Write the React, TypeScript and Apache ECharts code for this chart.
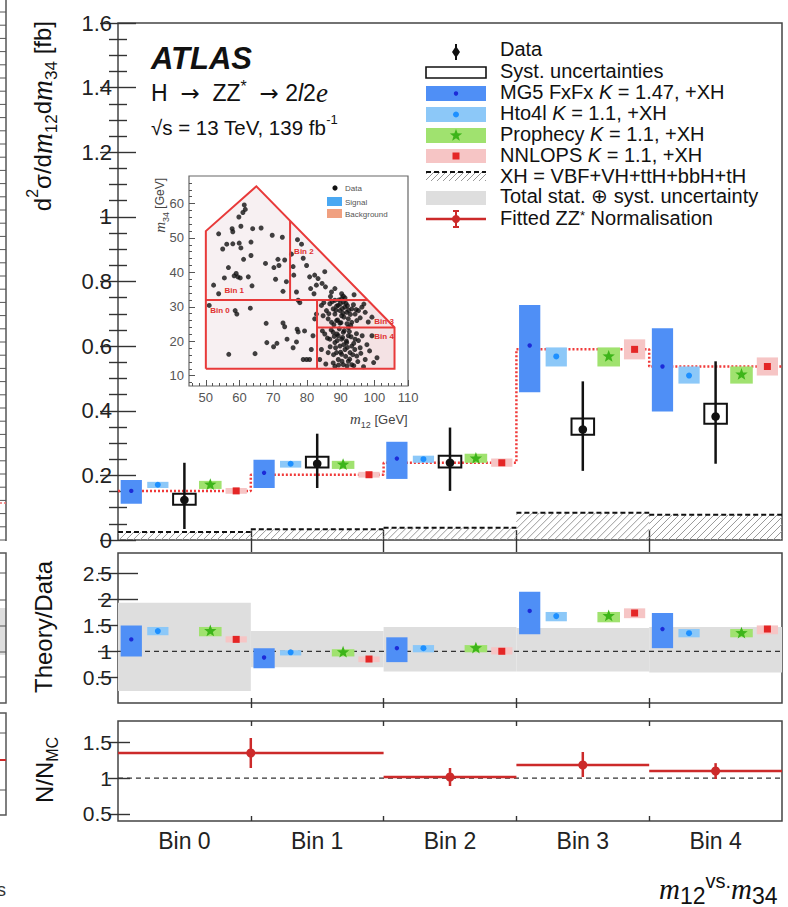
import React, { useEffect, useRef } from 'react';
import * as echarts from 'echarts';

const FONT = 'Liberation Sans, Arial, Helvetica, sans-serif';
const SERIF = 'Liberation Serif, Times New Roman, serif';

// ---------- data ----------
const binLabels = ['Bin 0', 'Bin 1', 'Bin 2', 'Bin 3', 'Bin 4'];
const binIndex = [0, 1, 2, 3, 4];

// main panel: d2sigma/dm12dm34 [fb]
const mg5 = [0.152, 0.208, 0.252, 0.602, 0.537];
const mg5Lo = [0.112, 0.161, 0.189, 0.457, 0.398];
const mg5Hi = [0.186, 0.248, 0.304, 0.727, 0.655];
const hto4l = [0.171, 0.236, 0.25, 0.568, 0.509];
const hto4lLo = [0.161, 0.224, 0.239, 0.537, 0.484];
const hto4lHi = [0.18, 0.245, 0.261, 0.596, 0.537];
const prophecy = [0.171, 0.233, 0.252, 0.568, 0.512];
const prophecyLo = [0.158, 0.22, 0.239, 0.537, 0.484];
const prophecyHi = [0.183, 0.245, 0.267, 0.596, 0.537];
const nnlops = [0.152, 0.202, 0.239, 0.59, 0.537];
const nnlopsLo = [0.143, 0.193, 0.227, 0.559, 0.509];
const nnlopsHi = [0.161, 0.211, 0.252, 0.621, 0.565];
const dataVal = [0.124, 0.236, 0.239, 0.342, 0.382];
const dataLo = [0.034, 0.161, 0.152, 0.214, 0.236];
const dataHi = [0.239, 0.329, 0.348, 0.491, 0.553];
const systLo = [0.109, 0.224, 0.224, 0.326, 0.36];
const systHi = [0.143, 0.258, 0.261, 0.376, 0.422];
const xhVal = [0.025, 0.033, 0.038, 0.084, 0.078];

// ratio panel: Theory/Data
const bandLo = [0.23, 0.69, 0.61, 0.61, 0.59];
const bandHi = [1.94, 1.39, 1.47, 1.45, 1.47];
const rMg5 = [1.23, 0.88, 1.06, 1.78, 1.43];
const rMg5Lo = [0.9, 0.67, 0.79, 1.33, 1.06];
const rMg5Hi = [1.5, 1.06, 1.27, 2.15, 1.74];
const rHto4l = [1.39, 0.98, 1.06, 1.68, 1.35];
const rHto4lLo = [1.31, 0.92, 0.98, 1.58, 1.27];
const rHto4lHi = [1.47, 1.02, 1.12, 1.76, 1.43];
const rProphecy = [1.39, 0.98, 1.06, 1.68, 1.35];
const rProphecyLo = [1.29, 0.9, 0.98, 1.56, 1.27];
const rProphecyHi = [1.47, 1.04, 1.12, 1.76, 1.43];
const rNnlops = [1.23, 0.85, 1.0, 1.74, 1.43];
const rNnlopsLo = [1.17, 0.79, 0.94, 1.64, 1.33];
const rNnlopsHi = [1.29, 0.9, 1.08, 1.83, 1.5];

// N/N_MC panel
const fitFrom = [0, 2, 3, 4];
const fitTo = [2, 3, 4, 5];
const fitAt = [1, 2.5, 3.5, 4.5];
const fitVal = [1.352, 1.016, 1.184, 1.1];
const fitLo = [1.142, 0.89, 1.016, 0.988];
const fitHi = [1.562, 1.142, 1.366, 1.21];

// tick values
const ratioTicks = [0.5, 1, 1.5, 2, 2.5];
const normTicks = [0.5, 1, 1.5];
const binEdges = [1, 2, 3, 4];
const binCentres = [0.5, 1.5, 2.5, 3.5, 4.5];
const insetXTicks = [50, 60, 70, 80, 90, 100, 110];
const insetYTicks = [10, 20, 30, 40, 50, 60];

// inset: (m12, m34) events
const insetPoints: number[][] = [
  [61.4, 59.6], [61.7, 58.3], [61.0, 57.4], [59.8, 56.1], [60.4, 53.4], [57.8, 52.7], [58.0, 51.8], [53.8, 51.2],
  [63.9, 52.7], [66.4, 52.9], [59.9, 48.5], [60.4, 47.1], [58.0, 48.3], [56.2, 48.2], [55.0, 46.8], [63.4, 48.8],
  [61.2, 43.8], [63.4, 44.9], [69.7, 50.8], [72.7, 50.2], [67.7, 42.6], [71.4, 43.8], [73.4, 43.6], [70.2, 41.4],
  [71.7, 42.0], [56.7, 41.4], [59.0, 39.7], [59.5, 38.7], [58.4, 39.0], [60.2, 38.4], [55.5, 38.4], [62.6, 38.7],
  [52.3, 36.3], [53.8, 33.8], [63.7, 36.1], [70.7, 38.0], [73.9, 37.3], [72.9, 34.5], [75.4, 45.3], [75.9, 41.7],
  [76.1, 39.2], [76.9, 34.3], [77.2, 49.5], [78.4, 48.2], [77.4, 31.9], [77.9, 31.2],
  [51.0, 30.4], [58.7, 28.9], [59.2, 27.9], [63.2, 29.6], [67.9, 25.2], [72.9, 25.3], [73.4, 24.2], [77.1, 23.5],
  [77.4, 22.7], [68.1, 19.6], [71.1, 19.4], [70.1, 18.4], [74.1, 20.6], [76.9, 19.8], [75.9, 18.1], [56.8, 16.2],
  [64.6, 16.4], [78.9, 14.7],
  [79.9, 42.0], [80.8, 38.7], [82.3, 39.2], [83.3, 38.2], [82.8, 36.3], [84.5, 36.8], [85.3, 40.2], [85.5, 35.8],
  [81.1, 35.3], [82.1, 33.8], [87.3, 34.3], [88.3, 35.3], [90.3, 33.8], [90.8, 33.1], [78.9, 44.1],
  [84.3, 30.4], [85.8, 28.9], [86.8, 30.9], [87.8, 29.4], [88.3, 27.9], [89.3, 30.4], [89.8, 28.9], [90.3, 27.4],
  [90.8, 31.4], [91.3, 29.9], [91.8, 28.4], [92.3, 26.5], [93.3, 29.4], [94.3, 27.9], [95.3, 28.9], [96.3, 29.9],
  [97.3, 28.4], [88.8, 26.0], [87.3, 25.5], [86.3, 26.5], [89.8, 25.3], [93.3, 25.5], [94.8, 26.0], [84.8, 27.4],
  [99.3, 27.0], [88.3, 31.9], [90.3, 32.4],
  [85.3, 22.1], [86.8, 20.6], [87.8, 22.6], [88.3, 19.6], [89.3, 21.6], [89.8, 18.6], [90.3, 20.6], [90.8, 22.6],
  [91.3, 17.6], [91.8, 19.6], [92.3, 21.6], [92.8, 16.7], [93.3, 18.6], [94.3, 20.6], [94.8, 15.7], [95.8, 18.1],
  [89.3, 14.7], [87.8, 13.7], [90.8, 13.2], [92.3, 14.2], [86.3, 16.7], [84.3, 17.6], [83.8, 14.7], [97.3, 14.7],
  [100.8, 15.2], [99.3, 21.6], [88.8, 16.7], [90.3, 16.2], [93.3, 13.2], [88.3, 12.7],
  [79.3, 23.0], [81.8, 21.6], [81.3, 17.6], [79.9, 14.7], [80.8, 14.7], [82.3, 26.5], [82.8, 27.9],
  [87.5, 31.5], [88.8, 30.2], [89.5, 32.0], [90.5, 29.5], [91.0, 27.0], [91.6, 31.0], [92.4, 29.0], [92.9, 27.8],
  [93.8, 30.6], [94.6, 29.2], [89.1, 26.2], [90.1, 25.4], [91.9, 25.1], [93.0, 24.6], [88.0, 24.8], [86.5, 28.0],
  [85.0, 31.2], [95.8, 26.8], [96.9, 30.8], [98.2, 25.6], [90.7, 28.1], [89.9, 30.9], [92.0, 30.3], [88.6, 29.0],
  [91.3, 32.6], [94.0, 33.5], [87.0, 33.0],
  [87.2, 23.3], [88.9, 22.1], [89.6, 23.6], [90.6, 21.1], [91.1, 23.1], [91.7, 20.1], [92.6, 22.8], [93.1, 21.3],
  [93.9, 19.4], [94.7, 22.2], [95.3, 20.2], [96.4, 21.6], [97.8, 19.0], [86.9, 18.4], [87.9, 16.1], [88.5, 18.1],
  [89.0, 20.2], [90.0, 16.8], [90.9, 19.0], [91.5, 15.6], [92.0, 18.2], [92.7, 14.8], [93.6, 16.1], [94.2, 17.6],
  [95.1, 14.1], [96.0, 16.5], [89.4, 13.1], [90.4, 14.2], [91.9, 12.8], [93.9, 12.9], [85.6, 13.4], [86.1, 20.9],
  [84.6, 23.0], [98.6, 17.2], [99.8, 13.8], [96.8, 12.6], [88.1, 21.4], [92.3, 24.0],
];
const insetOutline = [[50, 12], [50, 52], [65, 65], [106, 24], [106, 12], [50, 12]];
const insetDividers = [
  [[50, 32], [98, 32]],
  [[75, 32], [75, 55]],
  [[83, 12], [83, 32]],
  [[83, 24], [106, 24]],
];
const insetCluster = [[83, 12], [83, 32], [98, 32], [106, 24], [106, 12]];
const insetBinText = ['Bin 0', 'Bin 1', 'Bin 2', 'Bin 3', 'Bin 4'];
const insetBinPos = [[51.3, 29], [55.5, 34.6], [76.2, 46], [100, 25.8], [100, 21.4]];

// ---------- helpers ----------
const C = {
  mg5: '#4f8ff6', mg5Dot: '#1c2bd8',
  hto4l: '#8cc8f8', hto4lDot: '#1e90ff',
  prophecy: '#a0e26f', prophecyDot: '#3db51a',
  nnlops: '#f6c5c5', nnlopsDot: '#e42626',
  band: '#dedede', red: '#cc2a2a', dotted: '#f03a3a',
};

function starPts(cx: number, cy: number, R: number, r: number) {
  const pts: number[][] = [];
  for (let k = 0; k < 10; k++) {
    const a = -Math.PI / 2 + (k * Math.PI) / 5;
    const rad = k % 2 ? r : R;
    pts.push([cx + rad * Math.cos(a), cy + rad * Math.sin(a)]);
  }
  return pts;
}

function marker(kind: string, x: number, y: number): any {
  if (kind === 'mg5') return { type: 'circle', shape: { cx: x, cy: y, r: 2.2 }, style: { fill: C.mg5Dot } };
  if (kind === 'hto4l') return { type: 'circle', shape: { cx: x, cy: y, r: 3 }, style: { fill: C.hto4lDot } };
  if (kind === 'prophecy') return { type: 'polygon', shape: { points: starPts(x, y, 6.5, 2.7) }, style: { fill: C.prophecyDot } };
  return { type: 'rect', shape: { x: x - 3.5, y: y - 3.5, width: 7, height: 7 }, style: { fill: C.nnlopsDot } };
}

const SLOT: Record<string, number[]> = {
  mg5: [0.02, 0.18], hto4l: [0.22, 0.38], prophecy: [0.61, 0.78], nnlops: [0.81, 0.97],
};

function boxSeries(kind: string, fill: string, center: number[], lo: number[], hi: number[], ax: number) {
  const slot = SLOT[kind];
  return {
    type: 'custom', xAxisIndex: ax, yAxisIndex: ax, z: 3, silent: true,
    data: center.map((c, i) => [binIndex[i], c, lo[i], hi[i]]),
    renderItem: (_p: any, api: any) => {
      const i = api.value(0);
      const tl = api.coord([i + slot[0], api.value(3)]);
      const br = api.coord([i + slot[1], api.value(2)]);
      const m = api.coord([i + (slot[0] + slot[1]) / 2, api.value(1)]);
      return {
        type: 'group',
        children: [
          { type: 'rect', shape: { x: tl[0], y: tl[1], width: br[0] - tl[0], height: br[1] - tl[1] }, style: { fill } },
          marker(kind, m[0], m[1]),
        ],
      };
    },
  };
}

function hatchLines(x0: number, y0: number, x1: number, y1: number, step: number, color: string) {
  const out: any[] = [];
  for (let c = x0 + y0 + 2; c <= x1 + y1; c += step) {
    const s = Math.max(x0, c - y1);
    const e = Math.min(x1, c - y0);
    if (e > s) out.push({ type: 'line', shape: { x1: s, y1: c - s, x2: e, y2: c - e }, style: { stroke: color, lineWidth: 1 } });
  }
  return out;
}

const tickStyle = { color: '#333', width: 1.4 };

function xAxisFor(grid: number, pos: string, len: number, labels: boolean) {
  return {
    type: 'value', gridIndex: grid, position: pos, min: 0, max: 5,
    axisLine: { show: false }, splitLine: { show: false },
    axisTick: { show: true, inside: true, length: len, customValues: binEdges, lineStyle: tickStyle },
    axisLabel: labels
      ? { show: true, customValues: binCentres, formatter: (v: number) => binLabels[Math.floor(v)], fontSize: 23, color: '#222', fontFamily: FONT, margin: 8 }
      : { show: false },
  };
}

function yAxisFor(grid: number, pos: string, min: number, max: number, ticks: number[], len: number, labels: boolean) {
  return {
    type: 'value', gridIndex: grid, position: pos, min, max,
    axisLine: { show: false }, splitLine: { show: false },
    axisTick: { show: true, inside: true, length: len, customValues: ticks, lineStyle: tickStyle },
    axisLabel: labels
      ? { show: true, customValues: ticks, formatter: (v: number) => String(v), fontSize: 21, color: '#222', fontFamily: FONT, margin: 6 }
      : { show: false },
  };
}

function mainY(pos: string, labels: boolean) {
  return {
    type: 'value', gridIndex: 0, position: pos, min: 0, max: 1.6, interval: 0.2,
    axisLine: { show: false }, splitLine: { show: false },
    axisTick: { show: true, inside: true, length: 18, lineStyle: tickStyle },
    minorTick: { show: true, splitNumber: 4, length: 9, lineStyle: tickStyle },
    axisLabel: labels
      ? { show: true, formatter: (v: number) => String(+v.toFixed(1)), fontSize: 22, color: '#222', fontFamily: FONT, margin: 6 }
      : { show: false },
  };
}

function insetMinor(lo: number, hi: number, step: number, majors: number[]) {
  const out: number[] = [];
  for (let v = lo; v <= hi; v += step) if (majors.indexOf(v) < 0) out.push(v);
  return out;
}

function insetAxis(dim: 'x' | 'y', major: boolean) {
  const isX = dim === 'x';
  const majors = isX ? insetXTicks : insetYTicks;
  const ticks = major ? majors : insetMinor(isX ? 46 : 8, isX ? 110 : 66, 2, majors);
  return {
    type: 'value', gridIndex: 3, position: isX ? 'bottom' : 'left',
    min: isX ? 45 : 7, max: isX ? 110 : 68,
    axisLine: { show: false }, splitLine: { show: false },
    axisTick: { show: true, inside: true, length: major ? 6 : 3, customValues: ticks, lineStyle: { color: '#555', width: 1 } },
    axisLabel: major
      ? { show: true, customValues: majors, fontSize: 13, color: '#555', fontFamily: FONT, margin: 5 }
      : { show: false },
  };
}

function txt(text: string, x: number, y: number, size: number, extra: any = {}) {
  return {
    type: 'text', x, y, z: 20, silent: true,
    style: { text, fill: '#111', fontSize: size, fontFamily: FONT, verticalAlign: 'middle', align: 'left', ...extra },
  };
}

const LEG = 20;

function buildGraphic() {
  const els: any[] = [];
  // left-edge fragments of the neighbouring figure
  els.push({ type: 'line', shape: { x1: 6, y1: 0, x2: 6, y2: 541 }, style: { stroke: '#555', lineWidth: 1.5 } });
  for (let y = 12; y < 540; y += 13.2) els.push({ type: 'line', shape: { x1: 0, y1: y, x2: 6, y2: y }, style: { stroke: '#555', lineWidth: 1 } });
  els.push({ type: 'line', shape: { x1: 0, y1: 503, x2: 6, y2: 503 }, style: { stroke: '#f07070', lineWidth: 1.5, lineDash: [2, 2] } });
  els.push({ type: 'rect', shape: { x: 0, y: 608, width: 6, height: 47 }, style: { fill: C.band } });
  els.push({ type: 'rect', shape: { x: -4, y: 553, width: 10, height: 150 }, style: { fill: 'transparent', stroke: '#555', lineWidth: 1.5 } });
  [573, 600, 626, 652, 677].forEach((y) => els.push({ type: 'line', shape: { x1: 0, y1: y, x2: 6, y2: y }, style: { stroke: '#555', lineWidth: 1 } }));
  els.push({ type: 'rect', shape: { x: -4, y: 713, width: 10, height: 102 }, style: { fill: 'transparent', stroke: '#555', lineWidth: 1.5 } });
  els.push({ type: 'line', shape: { x1: 0, y1: 760, x2: 6, y2: 760 }, style: { stroke: C.red, lineWidth: 2 } });
  [733, 790].forEach((y) => els.push({ type: 'line', shape: { x1: 0, y1: y, x2: 6, y2: y }, style: { stroke: '#555', lineWidth: 1 } }));
  els.push(txt('s', -3, 890, 18, { fill: '#333' }));

  // axis titles
  els.push({
    type: 'text', x: 42, y: 21, rotation: Math.PI / 2, z: 20, silent: true,
    style: {
      text: '{n|d}{sup|2}{n|σ/d}{m|m}{sub|12}{n|d}{m|m}{sub|34}{n| [fb]}',
      align: 'right', verticalAlign: 'middle', fill: '#111',
      rich: {
        n: { fontSize: 24, fontFamily: FONT, lineHeight: 36, fill: '#111' },
        m: { fontSize: 29, fontFamily: SERIF, fontStyle: 'italic', lineHeight: 36, fill: '#111' },
        sub: { fontSize: 17, fontFamily: FONT, verticalAlign: 'bottom', lineHeight: 19, fill: '#111' },
        sup: { fontSize: 16, fontFamily: FONT, verticalAlign: 'top', lineHeight: 19, fill: '#111' },
      },
    },
  });
  els.push({
    type: 'text', x: 43, y: 627, rotation: Math.PI / 2, z: 20, silent: true,
    style: { text: 'Theory/Data', align: 'center', verticalAlign: 'middle', fill: '#111', fontSize: 24, fontFamily: FONT },
  });
  els.push({
    type: 'text', x: 44, y: 770, rotation: Math.PI / 2, z: 20, silent: true,
    style: {
      text: '{n|N/N}{sub|MC}', align: 'center', verticalAlign: 'middle', fill: '#111',
      rich: {
        n: { fontSize: 24, fontFamily: FONT, lineHeight: 32, fill: '#111' },
        sub: { fontSize: 16, fontFamily: FONT, verticalAlign: 'bottom', lineHeight: 17, fill: '#111' },
      },
    },
  });
  els.push({
    type: 'text', x: 659, y: 889, z: 20, silent: true,
    style: {
      text: '{m|m}{sub|12}{vs|vs.}{m|m}{sub|34}', align: 'left', verticalAlign: 'middle', fill: '#111',
      rich: {
        m: { fontSize: 29, fontFamily: SERIF, fontStyle: 'italic', lineHeight: 36, fill: '#111' },
        sub: { fontSize: 23, fontFamily: FONT, verticalAlign: 'bottom', lineHeight: 24, fill: '#111' },
        vs: { fontSize: 20, fontFamily: FONT, verticalAlign: 'top', lineHeight: 33, fill: '#111' },
      },
    },
  });

  // ATLAS labels
  els.push(txt('ATLAS', 151, 58, 31, { fontWeight: 'bold', fontStyle: 'italic' }));
  els.push({
    type: 'text', x: 151, y: 93, z: 20, silent: true,
    style: {
      text: '{n|H  }{a|→}{n|  ZZ}{sup|*}{n|  }{a|→}{n| 2}{l|l}{n|2}{e|e}', align: 'left', verticalAlign: 'middle', fill: '#111',
      rich: {
        n: { fontSize: 23, fontFamily: FONT, lineHeight: 30, fill: '#111' },
        a: { fontSize: 23, fontFamily: 'DejaVu Sans', lineHeight: 30, fill: '#111' },
        sup: { fontSize: 16, fontFamily: FONT, verticalAlign: 'top', lineHeight: 24, fill: '#111' },
        l: { fontSize: 23, fontFamily: FONT, fontStyle: 'italic', lineHeight: 30, fill: '#111' },
        e: { fontSize: 27, fontFamily: SERIF, fontStyle: 'italic', lineHeight: 30, fill: '#111' },
      },
    },
  });
  els.push({
    type: 'text', x: 151, y: 127, z: 20, silent: true,
    style: {
      text: '{n|√s = 13 TeV, 139 fb}{sup|-1}', align: 'left', verticalAlign: 'middle', fill: '#111',
      rich: {
        n: { fontSize: 20.5, fontFamily: FONT, lineHeight: 28, fill: '#111' },
        sup: { fontSize: 13, fontFamily: FONT, verticalAlign: 'top', lineHeight: 16, fill: '#111' },
      },
    },
  });

  // legend
  const lx0 = 426, lx1 = 486, lxm = 456, tx = 500;
  const it = (pre: string, post: string) => ({
    text: `{n|${pre}}{i|K}{n|${post}}`,
    rich: {
      n: { fontSize: LEG, fontFamily: FONT, fill: '#111', lineHeight: 19 },
      i: { fontSize: LEG, fontFamily: FONT, fontStyle: 'italic', fill: '#111', lineHeight: 19 },
    },
  });
  els.push({ type: 'line', shape: { x1: lxm, y1: 44, x2: lxm, y2: 60 }, style: { stroke: '#111', lineWidth: 2 } });
  els.push({ type: 'polygon', shape: { points: [[lxm, 46], [lxm + 4, 52], [lxm, 58], [lxm - 4, 52]] }, style: { fill: '#111' } });
  els.push(txt('Data', tx, 49, LEG));
  els.push({ type: 'rect', shape: { x: lx0, y: 67, width: 60, height: 11 }, style: { fill: '#fff', stroke: '#111', lineWidth: 1.6 } });
  els.push(txt('Syst. uncertainties', tx, 71, LEG));
  els.push({ type: 'rect', shape: { x: lx0, y: 86, width: 60, height: 15 }, style: { fill: C.mg5 } });
  els.push(marker('mg5', lxm, 93.5));
  els.push({ type: 'text', x: tx, y: 92, z: 20, silent: true, style: { ...it('MG5 FxFx ', ' = 1.47, +XH'), verticalAlign: 'middle', align: 'left', fill: '#111' } });
  els.push({ type: 'rect', shape: { x: lx0, y: 107, width: 60, height: 15 }, style: { fill: C.hto4l } });
  els.push(marker('hto4l', lxm, 114.5));
  els.push({ type: 'text', x: tx, y: 113, z: 20, silent: true, style: { ...it('Hto4l ', ' = 1.1, +XH'), verticalAlign: 'middle', align: 'left', fill: '#111' } });
  els.push({ type: 'rect', shape: { x: lx0, y: 128, width: 60, height: 15 }, style: { fill: C.prophecy } });
  els.push(marker('prophecy', lxm, 135.5));
  els.push({ type: 'text', x: tx, y: 134, z: 20, silent: true, style: { ...it('Prophecy ', ' = 1.1, +XH'), verticalAlign: 'middle', align: 'left', fill: '#111' } });
  els.push({ type: 'rect', shape: { x: lx0, y: 149, width: 60, height: 14 }, style: { fill: C.nnlops } });
  els.push(marker('nnlops', lxm, 156));
  els.push({ type: 'text', x: tx, y: 155, z: 20, silent: true, style: { ...it('NNLOPS ', ' = 1.1, +XH'), verticalAlign: 'middle', align: 'left', fill: '#111' } });
  hatchLines(lx0, 172, lx1, 181, 6, '#999').forEach((l) => els.push(l));
  els.push({ type: 'line', shape: { x1: lx0, y1: 172, x2: lx1, y2: 172 }, style: { stroke: '#111', lineWidth: 2, lineDash: [5, 3] } });
  els.push(txt('XH = VBF+VH+ttH+bbH+tH', tx, 175.5, LEG));
  els.push({ type: 'rect', shape: { x: lx0, y: 191, width: 60, height: 14 }, style: { fill: C.band } });
  els.push(txt('Total stat. ⊕ syst. uncertainty', tx, 196, LEG));
  els.push({ type: 'line', shape: { x1: lx0, y1: 219, x2: lx1, y2: 219 }, style: { stroke: C.red, lineWidth: 2.5 } });
  els.push({ type: 'line', shape: { x1: lxm, y1: 211, x2: lxm, y2: 227 }, style: { stroke: C.red, lineWidth: 2 } });
  els.push({ type: 'line', shape: { x1: lxm - 3, y1: 211, x2: lxm + 3, y2: 211 }, style: { stroke: C.red, lineWidth: 2 } });
  els.push({ type: 'line', shape: { x1: lxm - 3, y1: 227, x2: lxm + 3, y2: 227 }, style: { stroke: C.red, lineWidth: 2 } });
  els.push({ type: 'circle', shape: { cx: lxm, cy: 219, r: 4 }, style: { fill: C.red } });
  els.push({
    type: 'text', x: tx, y: 218, z: 20, silent: true,
    style: {
      text: '{n|Fitted ZZ}{sup|*}{n| Normalisation}', align: 'left', verticalAlign: 'middle', fill: '#111',
      rich: {
        n: { fontSize: LEG, fontFamily: FONT, lineHeight: 19, fill: '#111' },
        sup: { fontSize: 13, fontFamily: FONT, verticalAlign: 'top', lineHeight: 14, fill: '#111' },
      },
    },
  });

  // inset legend and titles
  els.push({ type: 'circle', shape: { cx: 335, cy: 188, r: 2.6 }, style: { fill: '#111' } });
  els.push(txt('Data', 345, 188, 8, { fill: '#555' }));
  els.push({ type: 'rect', shape: { x: 327, y: 197, width: 15, height: 9 }, style: { fill: '#4aa8f2' } });
  els.push(txt('Signal', 345, 202, 8, { fill: '#555' }));
  els.push({ type: 'rect', shape: { x: 327, y: 209, width: 15, height: 9 }, style: { fill: '#f0a080' } });
  els.push(txt('Background', 345, 214, 8, { fill: '#555' }));
  els.push({
    type: 'text', x: 350, y: 419, z: 20, silent: true,
    style: {
      text: '{m|m}{sub|12}{n| [GeV]}', align: 'left', verticalAlign: 'middle', fill: '#444',
      rich: {
        m: { fontSize: 15, fontFamily: SERIF, fontStyle: 'italic', lineHeight: 20, fill: '#444' },
        sub: { fontSize: 9, fontFamily: FONT, verticalAlign: 'bottom', lineHeight: 11, fill: '#444' },
        n: { fontSize: 13, fontFamily: FONT, lineHeight: 20, fill: '#444' },
      },
    },
  });
  els.push({
    type: 'text', x: 160, y: 178, rotation: Math.PI / 2, z: 20, silent: true,
    style: {
      text: '{m|m}{sub|34}{n| [GeV]}', align: 'right', verticalAlign: 'middle', fill: '#444',
      rich: {
        m: { fontSize: 15, fontFamily: SERIF, fontStyle: 'italic', lineHeight: 20, fill: '#444' },
        sub: { fontSize: 9, fontFamily: FONT, verticalAlign: 'bottom', lineHeight: 11, fill: '#444' },
        n: { fontSize: 12, fontFamily: FONT, lineHeight: 20, fill: '#444' },
      },
    },
  });
  return els;
}

function buildOption(): any {
  const gridBase = { show: true, borderColor: '#444', borderWidth: 1.5, backgroundColor: 'transparent' };
  const series: any[] = [];

  // ---- main panel ----
  series.push({
    type: 'custom', xAxisIndex: 0, yAxisIndex: 0, z: 1, silent: true,
    data: xhVal.map((v, i) => [binIndex[i], v]),
    renderItem: (_p: any, api: any) => {
      const i = api.value(0);
      const a = api.coord([i, api.value(1)]);
      const b = api.coord([i + 1, 0]);
      const children = hatchLines(a[0], a[1], b[0], b[1], 7, '#9a9a9a');
      children.push({ type: 'line', shape: { x1: a[0], y1: a[1], x2: b[0], y2: a[1] }, style: { stroke: '#111', lineWidth: 2, lineDash: [5, 3] } });
      return { type: 'group', children };
    },
  });
  series.push({
    type: 'line', xAxisIndex: 0, yAxisIndex: 0, z: 2, silent: true, step: 'end', symbol: 'none',
    data: nnlops.map((v, i) => [binIndex[i], v]).concat([[5, nnlops[4]]]),
    lineStyle: { color: C.dotted, width: 2.5, type: [2, 2] },
  });
  series.push(boxSeries('mg5', C.mg5, mg5, mg5Lo, mg5Hi, 0));
  series.push(boxSeries('hto4l', C.hto4l, hto4l, hto4lLo, hto4lHi, 0));
  series.push(boxSeries('prophecy', C.prophecy, prophecy, prophecyLo, prophecyHi, 0));
  series.push(boxSeries('nnlops', C.nnlops, nnlops, nnlopsLo, nnlopsHi, 0));
  series.push({
    type: 'custom', xAxisIndex: 0, yAxisIndex: 0, z: 4, silent: true,
    data: dataVal.map((v, i) => [binIndex[i], v, dataLo[i], dataHi[i], systLo[i], systHi[i]]),
    renderItem: (_p: any, api: any) => {
      const i = api.value(0);
      const c = api.coord([i + 0.5, api.value(1)]);
      const eTop = api.coord([i + 0.5, api.value(3)]);
      const eBot = api.coord([i + 0.5, api.value(2)]);
      const sTL = api.coord([i + 0.415, api.value(5)]);
      const sBR = api.coord([i + 0.585, api.value(4)]);
      return {
        type: 'group',
        children: [
          { type: 'rect', shape: { x: sTL[0], y: sTL[1], width: sBR[0] - sTL[0], height: sBR[1] - sTL[1] }, style: { fill: 'transparent', stroke: '#111', lineWidth: 2 } },
          { type: 'line', shape: { x1: c[0], y1: eTop[1], x2: c[0], y2: eBot[1] }, style: { stroke: '#111', lineWidth: 2.5 } },
          { type: 'circle', shape: { cx: c[0], cy: c[1], r: 4.3 }, style: { fill: '#111' } },
        ],
      };
    },
  });

  // ---- ratio panel ----
  series.push({
    type: 'custom', xAxisIndex: 2, yAxisIndex: 2, z: 1, silent: true,
    data: bandLo.map((v, i) => [binIndex[i], v, bandHi[i]]),
    renderItem: (_p: any, api: any) => {
      const i = api.value(0);
      const tl = api.coord([i, api.value(2)]);
      const br = api.coord([i + 1, api.value(1)]);
      return { type: 'rect', shape: { x: tl[0], y: tl[1], width: br[0] - tl[0], height: br[1] - tl[1] }, style: { fill: C.band } };
    },
  });
  series.push({
    type: 'line', xAxisIndex: 2, yAxisIndex: 2, z: 2, silent: true, symbol: 'none',
    data: [[0, 1], [5, 1]], lineStyle: { color: '#333', width: 1.3, type: [5, 4] },
  });
  series.push(boxSeries('mg5', C.mg5, rMg5, rMg5Lo, rMg5Hi, 2));
  series.push(boxSeries('hto4l', C.hto4l, rHto4l, rHto4lLo, rHto4lHi, 2));
  series.push(boxSeries('prophecy', C.prophecy, rProphecy, rProphecyLo, rProphecyHi, 2));
  series.push(boxSeries('nnlops', C.nnlops, rNnlops, rNnlopsLo, rNnlopsHi, 2));

  // ---- N/N_MC panel ----
  series.push({
    type: 'line', xAxisIndex: 4, yAxisIndex: 4, z: 2, silent: true, symbol: 'none',
    data: [[0, 1], [5, 1]], lineStyle: { color: '#333', width: 1.3, type: [5, 4] },
  });
  series.push({
    type: 'custom', xAxisIndex: 4, yAxisIndex: 4, z: 3, silent: true,
    data: fitVal.map((v, i) => [fitAt[i], v, fitLo[i], fitHi[i], fitFrom[i], fitTo[i]]),
    renderItem: (_p: any, api: any) => {
      const c = api.coord([api.value(0), api.value(1)]);
      const a = api.coord([api.value(4), api.value(1)]);
      const b = api.coord([api.value(5), api.value(1)]);
      const lo = api.coord([api.value(0), api.value(2)]);
      const hi = api.coord([api.value(0), api.value(3)]);
      return {
        type: 'group',
        children: [
          { type: 'line', shape: { x1: a[0], y1: a[1], x2: b[0], y2: b[1] }, style: { stroke: C.red, lineWidth: 2.5 } },
          { type: 'line', shape: { x1: c[0], y1: hi[1], x2: c[0], y2: lo[1] }, style: { stroke: C.red, lineWidth: 2.5 } },
          { type: 'circle', shape: { cx: c[0], cy: c[1], r: 4.5 }, style: { fill: C.red } },
        ],
      };
    },
  });

  // ---- inset ----
  series.push({
    type: 'custom', xAxisIndex: 6, yAxisIndex: 6, z: 1, silent: true,
    data: [[insetOutline[0][0], insetOutline[0][1]]],
    renderItem: (_p: any, api: any) => ({
      type: 'group',
      children: [
        { type: 'polygon', shape: { points: insetOutline.map((p) => api.coord(p)) }, style: { fill: 'rgba(238,222,226,0.45)' } },
        { type: 'polygon', shape: { points: insetCluster.map((p) => api.coord(p)) }, style: { fill: 'rgba(240,195,195,0.3)' } },
      ],
    }),
  });
  series.push({
    type: 'scatter', xAxisIndex: 6, yAxisIndex: 6, z: 2, silent: true,
    data: insetPoints, symbol: 'circle', symbolSize: 5, itemStyle: { color: '#111' },
  });
  series.push({
    type: 'custom', xAxisIndex: 6, yAxisIndex: 6, z: 3, silent: true,
    data: [insetOutline].concat(insetDividers).map((line, k) => [line[0][0], line[0][1], k]),
    renderItem: (_p: any, api: any) => {
      const k = api.value(2);
      const line = [insetOutline].concat(insetDividers)[k];
      return { type: 'polyline', shape: { points: line.map((p) => api.coord(p)) }, style: { stroke: '#e83a3a', lineWidth: 2, fill: 'transparent' } };
    },
  });
  series.push({
    type: 'custom', xAxisIndex: 6, yAxisIndex: 6, z: 4, silent: true,
    data: insetBinPos.map((p, k) => [p[0], p[1], k]),
    renderItem: (_p: any, api: any) => {
      const p = api.coord([api.value(0), api.value(1)]);
      return {
        type: 'text', x: p[0], y: p[1],
        style: { text: insetBinText[api.value(2)], fill: '#e03030', fontSize: 8, fontWeight: 'bold', fontFamily: FONT, verticalAlign: 'middle', align: 'left' },
      };
    },
  });

  return {
    animation: false,
    backgroundColor: '#fff',
    grid: [
      { ...gridBase, left: 118, top: 23, width: 664, height: 517 },
      { ...gridBase, left: 118, top: 553, width: 664, height: 150 },
      { ...gridBase, left: 118, top: 721, width: 664, height: 100 },
      { ...gridBase, left: 189, top: 176, width: 219, height: 210, borderColor: '#666', borderWidth: 1.2, backgroundColor: '#fff' },
    ],
    xAxis: [
      xAxisFor(0, 'bottom', 10, false),
      xAxisFor(0, 'top', 12, false),
      xAxisFor(1, 'bottom', 5, false),
      xAxisFor(1, 'top', 5, false),
      xAxisFor(2, 'bottom', 5, true),
      xAxisFor(2, 'top', 5, false),
      insetAxis('x', true),
      insetAxis('x', false),
    ],
    yAxis: [
      mainY('left', true),
      mainY('right', false),
      yAxisFor(1, 'left', 0, 2.9, ratioTicks, 20, true),
      yAxisFor(1, 'right', 0, 2.9, ratioTicks, 20, false),
      yAxisFor(2, 'left', 0.4, 1.8, normTicks, 12, true),
      yAxisFor(2, 'right', 0.4, 1.8, normTicks, 10, false),
      insetAxis('y', true),
      insetAxis('y', false),
    ],
    series,
    graphic: { elements: buildGraphic() },
  };
}

export default function App() {
  const ref = useRef<HTMLDivElement>(null);
  useEffect(() => {
    document.body.style.margin = '0';
    const chart = echarts.init(ref.current as HTMLDivElement, undefined, { renderer: 'svg' });
    chart.setOption(buildOption());
    return () => chart.dispose();
  }, []);
  return <div ref={ref} style={{ width: 788, height: 907 }} />;
}
